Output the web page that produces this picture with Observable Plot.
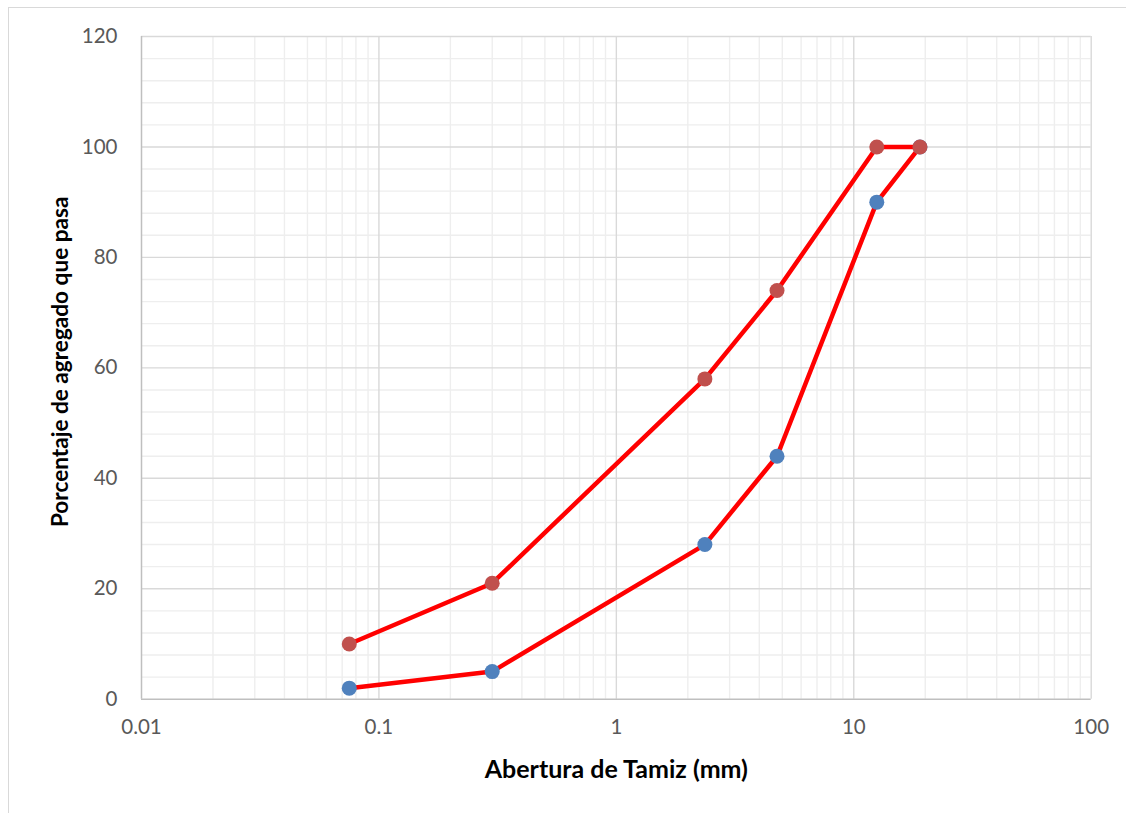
<!DOCTYPE html>
<html>
<head>
<meta charset="utf-8">
<script src="https://cdn.jsdelivr.net/npm/d3@7"></script>
<script src="https://cdn.jsdelivr.net/npm/@observablehq/plot@0.6"></script>
<style>
  html, body { margin: 0; padding: 0; background: #fff; }
  #wrap { position: relative; width: 1126px; height: 813px; overflow: hidden; }
  #frame { position: absolute; left: 8px; top: 7px; width: 1200px; height: 900px;
           border-left: 1.5px solid #d9d9d9; border-top: 1.5px solid #d9d9d9; }
  #chart { position: absolute; left: 0; top: 0; }
</style>
</head>
<body>
<div id="wrap"><div id="frame"></div><div id="chart"></div></div>
<script>
// Sieve openings (mm) and percentage passing
const sizes = [0.075, 0.3, 2.36, 4.75, 12.5, 19];
const upper = [10, 21, 58, 74, 100, 100];
const lower = [2, 5, 28, 44, 90, 100];
const xTicks = [0.01, 0.1, 1, 10, 100];
const yTicks = [0, 20, 40, 60, 80, 100, 120];
const xLabel = "Abertura de Tamiz (mm)";
const yLabel = "Porcentaje de agregado que pasa";

const upperData = sizes.map((s, i) => ({size: s, pct: upper[i]}));
const lowerData = sizes.map((s, i) => ({size: s, pct: lower[i]}));

const xMinor = d3.scaleLog().domain([0.01, 100]).ticks().filter(v => !xTicks.some(t => Math.abs(t - v) < 1e-9));
const yMinor = d3.range(0, 121, 4).filter(v => v % 20 !== 0);

const font = "Lato, 'Open Sans', sans-serif";

const chart = Plot.plot({
  width: 1126,
  height: 813,
  marginLeft: 141,
  marginRight: 35.3,
  marginTop: 36,
  marginBottom: 114.3,
  style: {fontFamily: font, background: "transparent"},
  x: {type: "log", domain: [0.01, 100]},
  y: {domain: [0, 120]},
  marks: [
    Plot.ruleX(xMinor, {stroke: "#eeeeee", strokeWidth: 1.4}),
    Plot.ruleY(yMinor, {stroke: "#eeeeee", strokeWidth: 1.4}),
    Plot.ruleX(xTicks.slice(1), {stroke: "#d9d9d9", strokeWidth: 1.4}),
    Plot.ruleY(yTicks.slice(1), {stroke: "#d9d9d9", strokeWidth: 1.4}),
    Plot.ruleX([xTicks[0]], {stroke: "#bfbfbf", strokeWidth: 1.5}),
    Plot.ruleY([yTicks[0]], {stroke: "#bfbfbf", strokeWidth: 1.5}),
    Plot.line(lowerData, {x: "size", y: "pct", stroke: "#ff0000", strokeWidth: 4.5}),
    Plot.dot(lowerData, {x: "size", y: "pct", r: 7.5, fill: "#4f81bd", stroke: "none"}),
    Plot.line(upperData, {x: "size", y: "pct", stroke: "#ff0000", strokeWidth: 4.5}),
    Plot.dot(upperData, {x: "size", y: "pct", r: 7.5, fill: "#c0504d", stroke: "none"}),
    Plot.axisX({ticks: xTicks, tickSize: 0, tickPadding: 20, label: null, fontSize: 20.5, fill: "#595959",
                tickFormat: d => String(d)}),
    Plot.axisY({ticks: yTicks, tickSize: 0, tickPadding: 24, label: null, fontSize: 20.5, fill: "#595959"}),
    Plot.text([xLabel], {frameAnchor: "bottom", text: d => d, dy: 71, lineAnchor: "middle",
                         fontSize: 25, fontWeight: "bold", fill: "#000"}),
    Plot.text([yLabel], {frameAnchor: "left", text: d => d, dx: -81, dy: -6, rotate: -90,
                         textAnchor: "middle", lineAnchor: "middle",
                         fontSize: 22.6, fontWeight: "bold", fill: "#000"})
  ]
});
document.getElementById("chart").appendChild(chart);
</script>
</body>
</html>
